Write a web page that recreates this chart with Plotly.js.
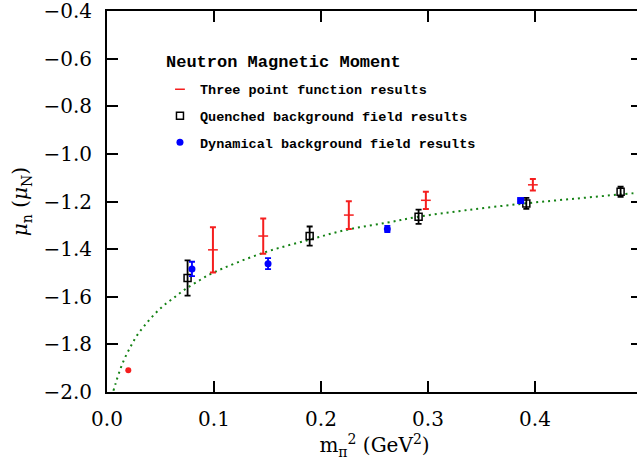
<!DOCTYPE html>
<html>
<head>
<meta charset="utf-8">
<script src="https://cdn.plot.ly/plotly-3.0.1.min.js"></script>
<style>
html, body { margin: 0; padding: 0; overflow: hidden; background: #fff; }
#chart { width: 660px; height: 466px; }
</style>
</head>
<body>
<div id="chart"></div>
<script>
// Three point function results
const threeX = [0.099, 0.146, 0.226, 0.298, 0.398];
const threeY = [-1.403, -1.345, -1.257, -1.195, -1.130];
const threeErr = [0.095, 0.074, 0.058, 0.036, 0.024];

// Quenched background field results
const quenchX = [0.0753, 0.1894, 0.2912, 0.3919, 0.480];
const quenchY = [-1.521, -1.345, -1.264, -1.208, -1.159];
const quenchErr = [0.074, 0.040, 0.030, 0.023, 0.021];

// Dynamical background field results
const dynX = [0.0794, 0.1505, 0.262, 0.3866];
const dynY = [-1.483, -1.461, -1.315, -1.196];
const dynErr = [0.030, 0.023, 0.013, 0.005];
const dynSymbols = ["circle", "circle", "circle", "square"];

// Chiral value (red dot)
const chiX = [0.0199];
const chiY = [-1.909];

// Dotted fit curve
const fitX = [0.006, 0.008, 0.0115, 0.0159, 0.0215, 0.0277, 0.0351, 0.0436, 0.0526, 0.0623, 0.0722, 0.0831, 0.0984, 0.1451, 0.1894, 0.2258, 0.2617, 0.2912, 0.3364, 0.3919, 0.44, 0.48, 0.5];
const fitY = [-1.995, -1.965, -1.916, -1.865, -1.814, -1.765, -1.721, -1.677, -1.638, -1.605, -1.571, -1.540, -1.501, -1.417, -1.360, -1.317, -1.289, -1.264, -1.236, -1.2075, -1.187, -1.170, -1.162];

const xTicks = [0.0, 0.1, 0.2, 0.3, 0.4];
const yTicks = [-2.0, -1.8, -1.6, -1.4, -1.2, -1.0, -0.8, -0.6, -0.4];

const legendTitle = "Neutron Magnetic Moment";
const monoFamily = "Liberation Mono, Courier New, monospace";
const legendFont = { family: monoFamily, size: 13.5, color: "#000", weight: "bold" };

const red = "rgb(245,30,30)";

const traces = [
  {
    x: fitX, y: fitY, type: "scatter", mode: "lines", showlegend: false,
    line: { color: "rgb(20,130,20)", width: 2, dash: "2px,4px", shape: "spline" },
    hoverinfo: "skip"
  },
  {
    x: threeX, y: threeY, type: "scatter", mode: "markers",
    name: "Three point function results", legendgroup: "a",
    marker: { symbol: "line-ew-open", size: 7, color: red, line: { color: red, width: 1.5 } },
    error_y: { type: "data", array: threeErr, visible: true, color: red, thickness: 2, width: 3 }
  },
  {
    x: quenchX, y: quenchY, type: "scatter", mode: "markers",
    name: "Quenched background field results", legendgroup: "b",
    marker: { symbol: "square-open", size: 7, color: "#000", line: { color: "#000", width: 1.5 } },
    error_y: { type: "data", array: quenchErr, visible: true, color: "#000", thickness: 1.8, width: 3 }
  },
  {
    x: dynX, y: dynY, type: "scatter", mode: "markers",
    name: "Dynamical background field results", legendgroup: "c",
    marker: { symbol: dynSymbols, size: 7, color: "#0000ff" },
    error_y: { type: "data", array: dynErr, visible: true, color: "#0000ff", thickness: 1.8, width: 3 }
  },
  {
    x: chiX, y: chiY, type: "scatter", mode: "markers", showlegend: false,
    marker: { symbol: "circle", size: 6, color: red }
  }
];

const axisFont = { family: "DejaVu Serif, serif", size: 20, color: "#000" };

const layout = {
  width: 660, height: 466,
  margin: { l: 107, r: 18, t: 11, b: 74 },
  paper_bgcolor: "#fff", plot_bgcolor: "#fff",
  showlegend: true,
  legend: {
    x: 0.099, y: 0.835, xanchor: "left", yanchor: "top",
    bgcolor: "rgba(0,0,0,0)", borderwidth: 0,
    font: legendFont,
    traceorder: "grouped", tracegroupgap: 6,
    itemwidth: 30
  },
  annotations: [
    {
      xref: "paper", yref: "paper", x: 0.106, y: 0.866, xanchor: "left", yanchor: "middle",
      text: legendTitle, showarrow: false,
      font: { family: monoFamily, size: 17, color: "#000", weight: "bold" }
    }
  ],
  xaxis: {
    range: [0, 0.5], tickvals: xTicks, ticktext: xTicks.map(v => v.toFixed(1)),
    ticks: "inside", ticklen: 11, tickwidth: 2, tickcolor: "#000",
    showline: true, linecolor: "#000", linewidth: 2, mirror: "ticks",
    showgrid: false, zeroline: false,
    tickfont: axisFont, ticklabelstandoff: 8, ticklabeloverflow: "allow",
    title: { text: "m<sub>π</sub><sup>2</sup> (GeV<sup>2</sup>)", font: axisFont, standoff: 4 }
  },
  yaxis: {
    range: [-2.0, -0.4], tickvals: yTicks, ticktext: yTicks.map(v => (v < 0 ? "\u2212" : "") + Math.abs(v).toFixed(1)),
    ticks: "inside", ticklen: 11, tickwidth: 2, tickcolor: "#000",
    showline: true, linecolor: "#000", linewidth: 2, mirror: "ticks",
    showgrid: false, zeroline: false,
    tickfont: axisFont, ticklabelstandoff: 9, ticklabeloverflow: "allow",
    title: { text: "<i>μ</i><sub>n</sub> (<i>μ</i><sub>N</sub>)", font: axisFont, standoff: 10 }
  }
};

Plotly.newPlot("chart", traces, layout, { displayModeBar: false, staticPlot: true });
</script>
</body>
</html>
